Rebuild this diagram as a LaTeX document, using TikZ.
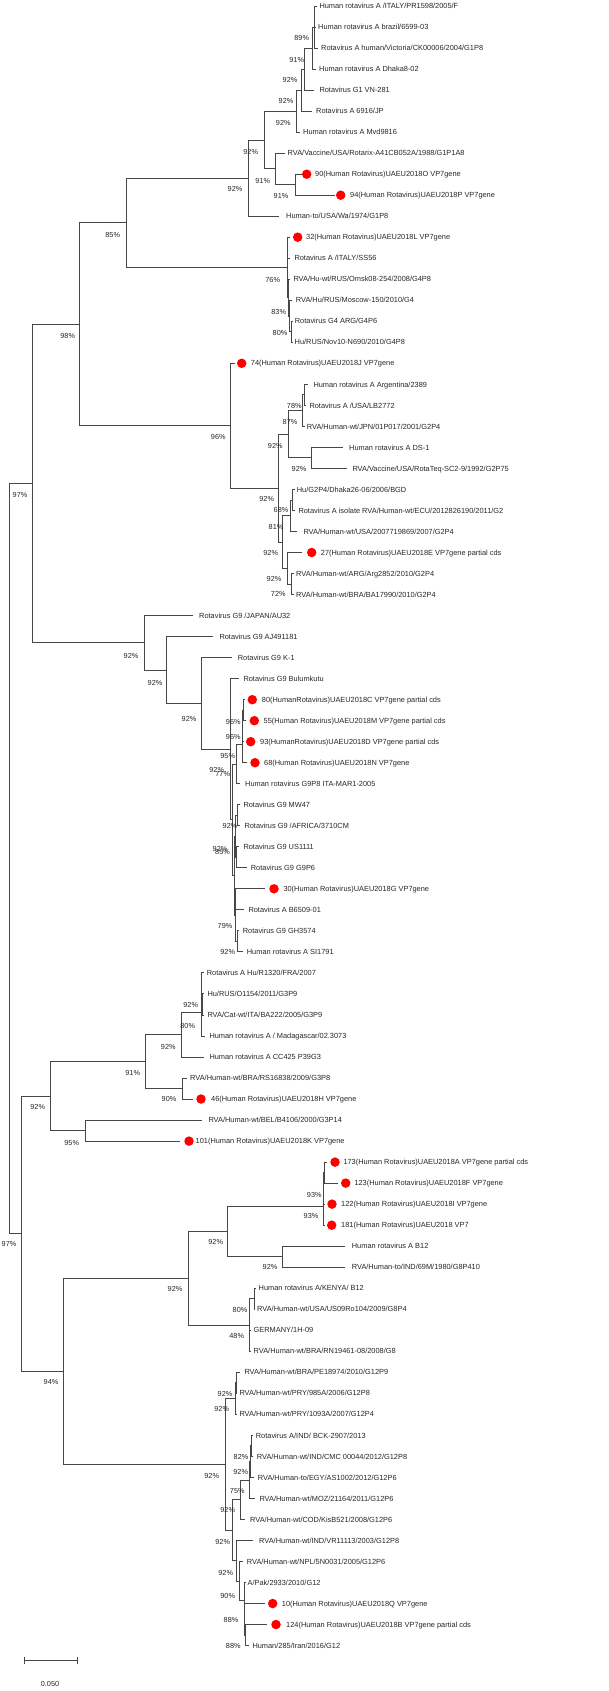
\documentclass[tikz,border=0pt]{standalone}
\usepackage{fontspec}
\setmainfont{Liberation Sans}
\usetikzlibrary{calc}
\tikzset{
 br/.style={draw=black!72, line width=0.85pt},
 leaftxt/.style={anchor=west, inner sep=0pt, text height=5.2pt, text depth=0pt, text=black!85, font=\fontsize{7.4}{8.8}\selectfont},
 bs/.style={inner sep=0pt, text height=5.2pt, text depth=0pt, text=black!85, font=\fontsize{7.3}{8.8}\selectfont},
 dotn/.style={circle, fill=red, minimum size=9.5pt, inner sep=0pt},
}
\newcommand\mkleaf[5]{\coordinate (#1) at (#2,#3);
 \node[leaftxt] (#1t) at (#4,#3) {#5};}
\newcommand\mkdleaf[6]{\coordinate (#1) at (#2,#3);
 \node[dotn] (#1d) at (#4,#3) {};
 \node[leaftxt] (#1t) at (#5,#3) {#6};}
\newcommand\mknode[4]{\path let \p1=(#3), \p2=(#4) in coordinate (#1) at (#2pt,{0.5*\y1+0.5*\y2});}
\newcommand\kids[2]{\foreach \c in {#2} {\draw[br] (#1) |- (\c);}}
\begin{document}
\begin{tikzpicture}[x=1pt,y=-1pt]
\useasboundingbox (0,0) rectangle (608,1691);
% ---------- leaves ----------
\mkleaf{l1}{316.7}{6}{319.3}{Human rotavirus A /ITALY/PR1598/2005/F}
\mkleaf{l2}{316}{27}{318}{Human rotavirus A brazil/6599-03}
\mkleaf{l3}{318}{48}{321}{Rotavirus A human/Victoria/CK00006/2004/G1P8}
\mkleaf{l4}{316}{69.1}{319}{Human rotavirus A Dhaka8-02}
\mkleaf{l5}{313.5}{90.1}{319.3}{Rotavirus G1 VN-281}
\mkleaf{l6}{311.7}{111.1}{316}{Rotavirus A 6916/JP}
\mkleaf{l7}{300}{132.1}{303}{Human rotavirus A Mvd9816}
\mkleaf{l8}{285}{153.1}{287.5}{RVA/Vaccine/USA/Rotarix-A41CB052A/1988/G1P1A8}
\mkdleaf{l9}{301.7}{174.2}{306.7}{315}{90(Human Rotavirus)UAEU2018O VP7gene}
\mkdleaf{l10}{335}{195.2}{340.7}{350}{94(Human Rotavirus)UAEU2018P VP7gene}
\mkleaf{l11}{279.3}{216.2}{286}{Human-to/USA/Wa/1974/G1P8}
\mkdleaf{l12}{290}{237.2}{297.7}{306}{32(Human Rotavirus)UAEU2018L VP7gene}
\mkleaf{l13}{289.5}{258.2}{294.3}{Rotavirus A /ITALY/SS56}
\mkleaf{l14}{290}{279.3}{293.3}{RVA/Hu-wt/RUS/Omsk08-254/2008/G4P8}
\mkleaf{l15}{291.5}{300.3}{295.7}{RVA/Hu/RUS/Moscow-150/2010/G4}
\mkleaf{l16}{292.7}{321.3}{294.7}{Rotavirus G4 ARG/G4P6}
\mkleaf{l17}{292.7}{342.3}{294.5}{Hu/RUS/Nov10-N690/2010/G4P8}
\mkdleaf{l18}{235}{363.3}{241.7}{250.7}{74(Human Rotavirus)UAEU2018J VP7gene}
\mkleaf{l19}{308}{384.4}{313.3}{Human rotavirus A Argentina/2389}
\mkleaf{l20}{305.5}{405.4}{309.3}{Rotavirus A /USA/LB2772}
\mkleaf{l21}{304.5}{426.4}{306.7}{RVA/Human-wt/JPN/01P017/2001/G2P4}
\mkleaf{l22}{343.3}{447.4}{349}{Human rotavirus A DS-1}
\mkleaf{l23}{346.7}{468.4}{352.3}{RVA/Vaccine/USA/RotaTeq-SC2-9/1992/G2P75}
\mkleaf{l24}{294.5}{489.5}{296.7}{Hu/G2P4/Dhaka26-06/2006/BGD}
\mkleaf{l25}{294.5}{510.5}{298.3}{Rotavirus A isolate RVA/Human-wt/ECU/2012826190/2011/G2}
\mkleaf{l26}{297}{531.5}{303.3}{RVA/Human-wt/USA/2007719869/2007/G2P4}
\mkdleaf{l27}{301.7}{552.5}{311.7}{320.7}{27(Human Rotavirus)UAEU2018E VP7gene partial cds}
\mkleaf{l28}{293.5}{573.5}{296}{RVA/Human-wt/ARG/Arg2852/2010/G2P4}
\mkleaf{l29}{293.5}{594.6}{296}{RVA/Human-wt/BRA/BA17990/2010/G2P4}
\mkleaf{l30}{192.7}{615.6}{199}{Rotavirus G9 /JAPAN/AU32}
\mkleaf{l31}{213.3}{636.6}{219.3}{Rotavirus G9 AJ491181}
\mkleaf{l32}{232.3}{657.6}{237.7}{Rotavirus G9 K-1}
\mkleaf{l33}{239}{678.6}{243.3}{Rotavirus G9 Bulumkutu}
\mkdleaf{l34}{245}{699.7}{252.3}{261.7}{80(HumanRotavirus)UAEU2018C VP7gene partial cds}
\mkdleaf{l35}{246}{720.7}{254.3}{263.5}{55(Human Rotavirus)UAEU2018M VP7gene partial cds}
\mkdleaf{l36}{244}{741.7}{250.7}{260}{93(HumanRotavirus)UAEU2018D VP7gene partial cds}
\mkdleaf{l37}{247}{762.7}{255}{264}{68(Human Rotavirus)UAEU2018N VP7gene}
\mkleaf{l38}{240}{783.7}{245}{Human rotavirus G9P8 ITA-MAR1-2005}
\mkleaf{l39}{239.5}{804.8}{243.3}{Rotavirus G9 MW47}
\mkleaf{l40}{239.5}{825.8}{244.3}{Rotavirus G9 /AFRICA/3710CM}
\mkleaf{l41}{238.5}{846.8}{243.3}{Rotavirus G9 US1111}
\mkleaf{l42}{246.7}{867.8}{250.7}{Rotavirus G9 G9P6}
\mkdleaf{l43}{265}{888.8}{274}{283.3}{30(Human Rotavirus)UAEU2018G VP7gene}
\mkleaf{l44}{244}{909.9}{248.3}{Rotavirus A B6509-01}
\mkleaf{l45}{239}{930.9}{242.7}{Rotavirus G9 GH3574}
\mkleaf{l46}{243}{951.9}{246.7}{Human rotavirus A SI1791}
\mkleaf{l47}{203.5}{972.9}{206.7}{Rotavirus A Hu/R1320/FRA/2007}
\mkleaf{l48}{203.5}{993.9}{207.3}{Hu/RUS/O1154/2011/G3P9}
\mkleaf{l49}{203.5}{1015}{207.3}{RVA/Cat-wt/ITA/BA222/2005/G3P9}
\mkleaf{l50}{205}{1036}{209.3}{Human rotavirus A / Madagascar/02.3073}
\mkleaf{l51}{204}{1057}{209.3}{Human rotavirus A CC425 P39G3}
\mkleaf{l52}{186.7}{1078}{190}{RVA/Human-wt/BRA/RS16838/2009/G3P8}
\mkdleaf{l53}{192.7}{1099}{201}{211}{46(Human Rotavirus)UAEU2018H VP7gene}
\mkleaf{l54}{201.7}{1120.1}{208.3}{RVA/Human-wt/BEL/B4106/2000/G3P14}
\mkdleaf{l55}{180}{1141.1}{189}{195.5}{101(Human Rotavirus)UAEU2018K VP7gene}
\mkdleaf{l56}{326.5}{1162.1}{335}{343.3}{173(Human Rotavirus)UAEU2018A VP7gene partial cds}
\mkdleaf{l57}{338}{1183.1}{345.7}{354.3}{123(Human Rotavirus)UAEU2018F VP7gene}
\mkdleaf{l58}{325}{1204.1}{332}{341}{122(Human Rotavirus)UAEU2018I VP7gene}
\mkdleaf{l59}{325}{1225.2}{331.7}{341}{181(Human Rotavirus)UAEU2018 VP7}
\mkleaf{l60}{345}{1246.2}{351.7}{Human rotavirus A B12}
\mkleaf{l61}{345}{1267.2}{351.7}{RVA/Human-to/IND/69M/1980/G8P410}
\mkleaf{l62}{255.5}{1288.2}{258.5}{Human rotavirus A/KENYA/ B12}
\mkleaf{l63}{255}{1309.2}{257}{RVA/Human-wt/USA/US09Ro104/2009/G8P4}
\mkleaf{l64}{250.5}{1330.3}{253.5}{GERMANY/1H-09}
\mkleaf{l65}{250.5}{1351.3}{253.5}{RVA/Human-wt/BRA/RN19461-08/2008/G8}
\mkleaf{l66}{240}{1372.3}{244.3}{RVA/Human-wt/BRA/PE18974/2010/G12P9}
\mkleaf{l67}{237}{1393.3}{239.3}{RVA/Human-wt/PRY/985A/2006/G12P8}
\mkleaf{l68}{236.5}{1414.3}{239.3}{RVA/Human-wt/PRY/1093A/2007/G12P4}
\mkleaf{l69}{252.5}{1435.4}{255.7}{Rotavirus A/IND/ BCK-2907/2013}
\mkleaf{l70}{253}{1456.4}{256.7}{RVA/Human-wt/IND/CMC 00044/2012/G12P8}
\mkleaf{l71}{254}{1477.4}{257.7}{RVA/Human-to/EGY/AS1002/2012/G12P6}
\mkleaf{l72}{255}{1498.4}{259.3}{RVA/Human-wt/MOZ/21164/2011/G12P6}
\mkleaf{l73}{245}{1519.4}{250}{RVA/Human-wt/COD/KisB521/2008/G12P6}
\mkleaf{l74}{253.3}{1540.5}{259}{RVA/Human-wt/IND/VR11113/2003/G12P8}
\mkleaf{l75}{242.7}{1561.5}{246.7}{RVA/Human-wt/NPL/5N0031/2005/G12P6}
\mkleaf{l76}{245.5}{1582.5}{247.5}{A/Pak/2933/2010/G12}
\mkdleaf{l77}{265}{1603.5}{272.7}{281.7}{10(Human Rotavirus)UAEU2018Q VP7gene}
\mkdleaf{l78}{266.7}{1624.5}{276}{286}{124(Human Rotavirus)UAEU2018B VP7gene partial cds}
\mkleaf{l79}{248.5}{1645.6}{252.3}{Human/285/Iran/2016/G12}
% ---------- internal nodes ----------
% G1
\mknode{n1}{314.7}{l1}{l3} \kids{n1}{l1,l2,l3}
\mknode{n2}{312.3}{n1}{l4} \kids{n2}{n1,l4}
\mknode{n3}{304.3}{n2}{l5} \kids{n3}{n2,l5}
\mknode{n4}{301.7}{n3}{l6} \kids{n4}{n3,l6}
\mknode{n5}{296.7}{n4}{l7} \kids{n5}{n4,l7}
\mknode{n6}{295}{l9}{l10} \kids{n6}{l9,l10}
\mknode{n7}{275.3}{l8}{n6} \kids{n7}{l8,n6}
\mknode{n8}{264.3}{n5}{n7} \kids{n8}{n5,n7}
\mknode{n9}{248.3}{n8}{l11} \kids{n9}{n8,l11}
% G4
\mknode{n11}{291.7}{l16}{l17} \kids{n11}{l16,l17}
\mknode{n12}{289.8}{l15}{n11} \kids{n12}{l15,n11}
\mknode{n13}{288.5}{l14}{n12} \kids{n13}{l14,n12}
\mknode{n14}{287.3}{l12}{n13} \kids{n14}{l12,l13,n13}
\mknode{n15}{126}{n9}{n14} \kids{n15}{n9,n14}
% G2
\mknode{n16}{304.3}{l19}{l20} \kids{n16}{l19,l20}
\mknode{n17}{302.3}{n16}{l21} \kids{n17}{n16,l21}
\mknode{n18}{311.7}{l22}{l23} \kids{n18}{l22,l23}
\mknode{n19}{288.3}{n17}{n18} \kids{n19}{n17,n18}
\mknode{n21}{292.3}{l24}{l25} \kids{n21}{l24,l25}
\mknode{n22}{290}{n21}{l26} \kids{n22}{n21,l26}
\mknode{n23}{291.7}{l28}{l29} \kids{n23}{l28,l29}
\mknode{n24}{287.3}{l27}{n23} \kids{n24}{l27,n23}
\mknode{n25}{282.7}{n22}{n24} \kids{n25}{n22,n24}
\mknode{n20}{278.3}{n19}{n25} \kids{n20}{n19,n25}
\mknode{g2}{230.7}{l18}{n20} \kids{g2}{l18,n20}
\mknode{n26}{79}{n15}{g2} \kids{n26}{n15,g2}
% G9
\mknode{n31}{243}{l34}{l35} \kids{n31}{l34,l35}
\mknode{n32}{242.5}{n31}{l36} \kids{n32}{n31,l36}
\mknode{n33}{242}{n32}{l37} \kids{n33}{n32,l37}
\mknode{n34}{236}{n33}{l38} \kids{n34}{n33,l38}
\mknode{n35}{237.3}{l39}{l40} \kids{n35}{l39,l40}
\mknode{n36}{236.7}{l41}{l42} \kids{n36}{l41,l42}
\mknode{n37}{235.5}{n35}{n36} \kids{n37}{n35,n36}
\mknode{n38}{237.3}{l45}{l46} \kids{n38}{l45,l46}
\mknode{n39}{235.8}{l43}{n38} \kids{n39}{l43,l44,n38}
\mknode{n40}{234}{n37}{n39} \kids{n40}{n37,n39}
\mknode{n41}{232}{n34}{n40} \kids{n41}{n34,n40}
\mknode{n30}{230.7}{l33}{n41} \kids{n30}{l33,n41}
\mknode{n29}{201.7}{l32}{n30} \kids{n29}{l32,n30}
\mknode{n28}{166.7}{l31}{n29} \kids{n28}{l31,n29}
\mknode{n27}{144}{l30}{n28} \kids{n27}{l30,n28}
\mknode{n42}{32.3}{n26}{n27} \kids{n42}{n26,n27}
% G3
\mknode{n43}{202.3}{l48}{l49} \kids{n43}{l48,l49}
\mknode{n44}{201.7}{l47}{n43} \kids{n44}{l47,n43}
\mknode{n45}{201}{n44}{l50} \kids{n45}{n44,l50}
\mknode{n46}{181}{n45}{l51} \kids{n46}{n45,l51}
\mknode{n47}{182.7}{l52}{l53} \kids{n47}{l52,l53}
\mknode{n48}{145.7}{n46}{n47} \kids{n48}{n46,n47}
\mknode{n49}{85}{l54}{l55} \kids{n49}{l54,l55}
\mknode{n50}{50}{n48}{n49} \kids{n50}{n48,n49}
% G8
\mknode{n51}{324}{l56}{l57} \kids{n51}{l56,l57}
\mknode{n52}{323.6}{n51}{l58} \kids{n52}{n51,l58}
\mknode{n53}{323.3}{n52}{l59} \kids{n53}{n52,l59}
\mknode{n54}{282.7}{l60}{l61} \kids{n54}{l60,l61}
\mknode{n55}{227.7}{n53}{n54} \kids{n55}{n53,n54}
\mknode{n56}{254}{l62}{l63} \kids{n56}{l62,l63}
\mknode{n57}{249.3}{n56}{l65} \kids{n57}{n56,l64,l65}
\mknode{n58}{188.3}{n55}{n57} \kids{n58}{n55,n57}
% G12
\mknode{n59}{236}{l66}{l67} \kids{n59}{l66,l67}
\mknode{n60}{235}{n59}{l68} \kids{n60}{n59,l68}
\mknode{n61}{251}{l69}{l70} \kids{n61}{l69,l70}
\mknode{n62}{250.3}{n61}{l71} \kids{n62}{n61,l71}
\mknode{n63}{249.3}{n62}{l72} \kids{n63}{n62,l72}
\mknode{n64}{240}{n63}{l73} \kids{n64}{n63,l73}
\mknode{n65}{245.3}{l78}{l79} \kids{n65}{l78,l79}
\mknode{n66}{244.7}{l77}{n65} \kids{n66}{l77,n65}
\mknode{n67}{244.3}{l76}{n66} \kids{n67}{l76,n66}
\mknode{n68}{239.3}{l75}{n67} \kids{n68}{l75,n67}
\mknode{n69}{236.7}{l74}{n68} \kids{n69}{l74,n68}
\mknode{n70}{232.3}{n64}{n69} \kids{n70}{n64,n69}
\mknode{n71}{225.7}{n60}{n70} \kids{n71}{n60,n70}
\mknode{n72}{63.3}{n58}{n71} \kids{n72}{n58,n71}
\mknode{n73}{21.7}{n50}{n72} \kids{n73}{n50,n72}
\mknode{root}{9}{n42}{n73} \kids{root}{n42,n73}
% ---------- bootstrap values ----------
\foreach \x/\y/\t [count=\i] in {
 301.7/38.3/89, 296.7/60/91, 290/80/92, 286/101/92, 283.3/123.3/92,
 250.7/151.7/92, 262.7/180.7/91, 235/189.3/92, 281/195.7/91, 112.7/235/85,
 272.7/280/76, 278.7/312/83, 280/332.7/80, 67.7/336/98, 294.3/406/78,
 290/421.7/87, 218.3/436.7/96, 275.3/445.7/92, 299/469.3/92, 20/495/97,
 266.7/499.3/92, 281/510.3/68, 276/527.3/81, 270.7/553.3/92, 274/579.3/92,
 278.3/594.3/72, 131/656/92, 155/683.3/92, 189/719/92, 233.3/721.7/96,
 233.3/736.7/96, 227.7/756/95, 216.7/770/92, 222.7/774/77, 230/826/92,
 220/848.5/92, 222.5/852/85, 225/926/79, 227.7/951.7/92, 190.7/1005/92,
 187.7/1025.7/80, 168.3/1047.3/92, 132.7/1073.3/91, 169/1098.7/90, 37.7/1107.3/92,
 71.7/1142.7/95, 314.3/1195/93, 311/1216/93, 215.7/1241.7/92, 9/1244/97,
 270/1267.3/92, 175/1289.3/92, 240/1310/80, 236.7/1336/48, 51/1381.7/94,
 225/1394/92, 221.7/1409.3/92, 241/1457.3/82, 240.7/1472.3/92, 211.7/1476/92,
 237.3/1490.7/75, 227.7/1510/92, 222.7/1541.7/92, 225.7/1573.3/92, 227.7/1596/90,
 231/1620/88, 233.3/1646/88}
 {\node[bs] (b\i) at (\x,\y) {\t\%};}
% ---------- scale bar ----------
\coordinate (sb1) at (24,1660.7);
\coordinate (sb2) at (77,1660.7);
\draw[br] (sb1) -- (sb2);
\draw[br] ([yshift=-3.3pt]sb1) -- ([yshift=3.3pt]sb1);
\draw[br] ([yshift=-3.3pt]sb2) -- ([yshift=3.3pt]sb2);
\node[bs] (sbl) at (50,1684) {0.050};
\end{tikzpicture}
\end{document}
